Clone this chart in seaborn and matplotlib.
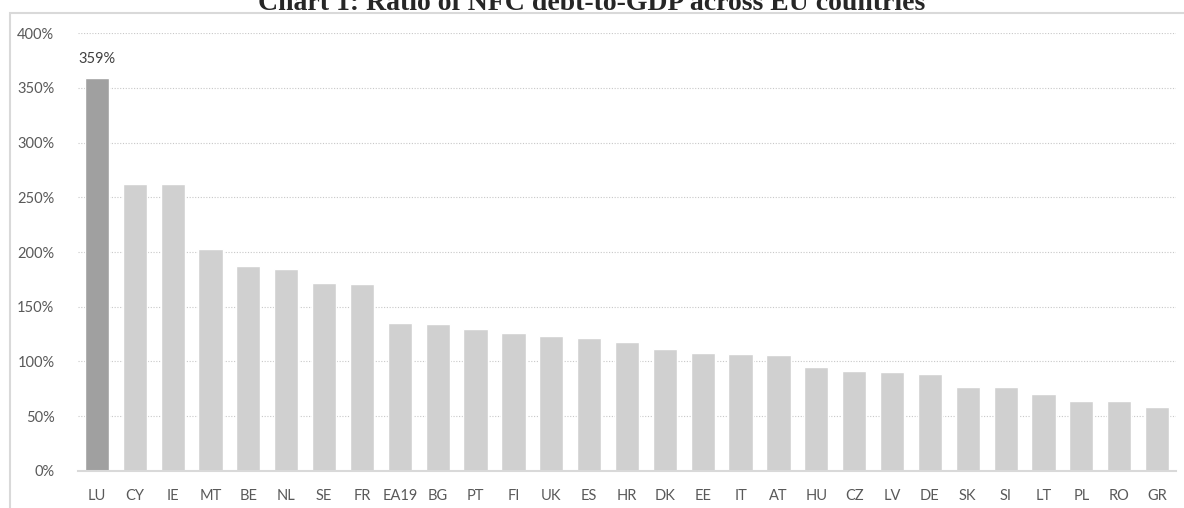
import seaborn as sns
import pandas as pd
import numpy as np
import matplotlib.pyplot as plt
from matplotlib.patches import Rectangle

# Chart values
countries = ['LU', 'CY', 'IE', 'MT', 'BE', 'NL', 'SE', 'FR', 'EA19', 'BG',
             'PT', 'FI', 'UK', 'ES', 'HR', 'DK', 'EE', 'IT', 'AT', 'HU',
             'CZ', 'LV', 'DE', 'SK', 'SI', 'LT', 'PL', 'RO', 'GR']
debt_ratio = [359, 262, 262, 203, 187, 184, 172, 171, 135, 134,
              130, 126, 123, 121, 118, 111, 108, 107, 106, 95,
              91, 90, 88, 77, 77, 70, 64, 64, 58]
highlight = 'LU'

df = pd.DataFrame({'country': countries, 'ratio': debt_ratio})
palette = {c: ('#a0a0a0' if c == highlight else '#d0d0d0') for c in countries}

sns.set_style('white')
plt.rcParams['font.family'] = ['Lato', 'DejaVu Sans']

fig = plt.figure(figsize=(11.84, 5.08), dpi=100)
ax = fig.add_axes([78 / 1184, 1 - 470.7 / 508, (1176 - 78) / 1184, (470.7 - 33.3) / 508])

sns.barplot(data=df, x='country', y='ratio', hue='country', palette=palette,
            width=0.64, legend=False, saturation=1, ax=ax)

# value label on the highlighted bar
ax.bar_label(ax.containers[0], fmt='%.0f%%', padding=9, fontsize=10.5, color='#404040')

ax.set_ylim(0, 400)
ax.set_xlim(-0.5, len(countries) - 0.5)
ax.set_yticks(np.arange(0, 401, 50))
ax.set_yticklabels([f'{v}%' for v in range(0, 401, 50)])
ax.set_xlabel('')
ax.set_ylabel('')
ax.tick_params(axis='y', length=0, pad=17, labelsize=10.5, labelcolor='#595959')
ax.tick_params(axis='x', length=0, pad=13, labelsize=10.5, labelcolor='#595959')

ax.grid(axis='y', color='#c8c8c8', linestyle=(0, (1, 1.5)), linewidth=0.8)
ax.set_axisbelow(True)
for side in ['left', 'right', 'top']:
    ax.spines[side].set_visible(False)
ax.spines['bottom'].set_color('#d9d9d9')
ax.spines['bottom'].set_linewidth(1.5)

# outer chart border
fig.add_artist(Rectangle((10 / 1184, -0.1), 1.2, 1 - 13 / 508 + 0.1,
                         transform=fig.transFigure, fill=False,
                         edgecolor='#d9d9d9', linewidth=1.5))

fig.text(0.5, 1 - 10 / 508, 'Chart 1: Ratio of NFC debt-to-GDP across EU countries',
         ha='center', va='baseline', fontsize=20, fontweight='bold',
         family='Liberation Serif')

fig.savefig('out.png', dpi=100)
